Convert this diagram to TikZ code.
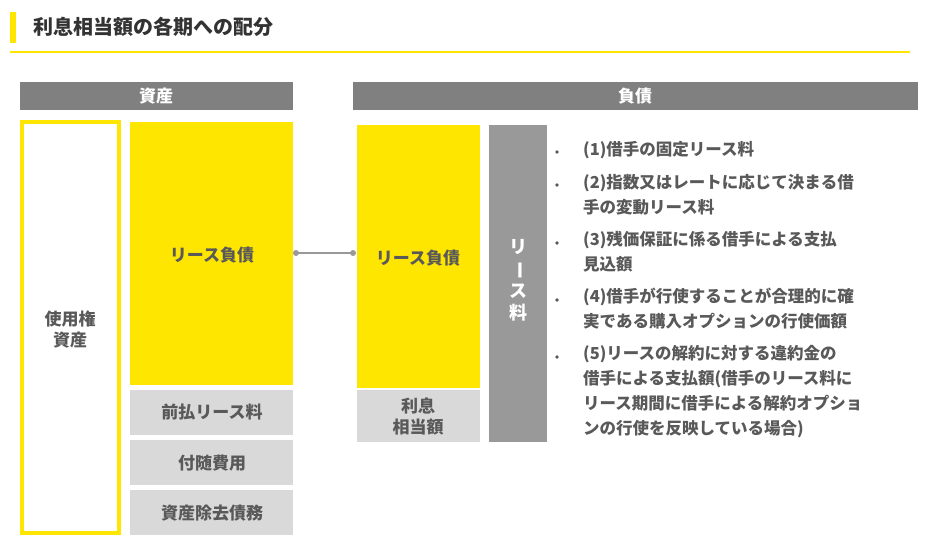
\documentclass[tikz,border=0pt]{standalone}
\usepackage{fontspec}
\setmainfont{Noto Sans CJK JP}
\usepackage{graphicx}
\definecolor{ey}{HTML}{FFE600}
\definecolor{hd}{HTML}{808080}
\definecolor{lg}{HTML}{D9D9D9}
\definecolor{dg}{HTML}{999999}
\definecolor{tx}{HTML}{595959}
\begin{document}
\begin{tikzpicture}[x=1pt,y=-1pt,
 lbl/.style={font=\fontsize{17}{21}\selectfont\bfseries,text=tx,align=center},
 bl/.style={anchor=north west,font=\fontsize{16.5}{25}\selectfont\bfseries,text=tx,align=left,inner sep=0pt}]
\useasboundingbox (0,0) rectangle (928,553);
\fill[ey] (10,12) rectangle (16,43);
\node[anchor=west,font=\fontsize{20}{24}\selectfont\bfseries,text=black!80] (title) at (30,27) {利息相当額の各期への配分};
\draw[ey,line width=1.2pt] (10,52) -- (910,52);
\fill[hd] (20,82) rectangle (293,110);
\node[text=white,font=\fontsize{17}{20}\selectfont\bfseries] (h1) at (156,96) {資産};
\fill[hd] (353,82) rectangle (918,110);
\node[text=white,font=\fontsize{17}{20}\selectfont\bfseries] (h2) at (635,96) {負債};
\draw[ey,line width=4pt] (22,122) rectangle (119,533);
\node[lbl] (ro) at (70,330) {使用権\\資産};
\fill[ey] (130,122) rectangle (293,385);
\node[lbl] (ll) at (212,255) {リース負債};
\fill[lg] (130,390) rectangle (293,435);
\node[lbl] (p1) at (212,412) {前払リース料};
\fill[lg] (130,440) rectangle (293,485);
\node[lbl] (p2) at (212,463) {付随費用};
\fill[lg] (130,490) rectangle (293,535);
\node[lbl] (p3) at (212,513) {資産除去債務};
\fill[ey] (357,125) rectangle (480,388);
\node[lbl] (rl) at (418,258) {リース負債};
\fill[lg] (357,390) rectangle (480,442);
\node[lbl] (ri) at (418,416) {利息\\相当額};
\coordinate (ca) at (296,253);
\coordinate (cb) at (353,253);
\draw[dg,line width=1.5pt] (ca) -- (cb);
\fill[dg] (ca) circle (3); \fill[dg] (cb) circle (3);
\fill[dg] (489,125) rectangle (547,442);
\node[text=white,font=\fontsize{18}{22}\selectfont\bfseries,align=center] (rv) at (518,280) {リ\\\rotatebox[origin=c]{-90}{ー}\\ス\\料};
\foreach \y in {152,185,243,300,357} \fill[tx] (557,\y) circle (1.8);
\node[bl] (b) at (583,141) {(1)借手の固定リース料\\[8pt](2)指数又はレートに応じて決まる借\\手の変動リース料\\[7pt](3)残価保証に係る借手による支払\\見込額\\[7pt](4)借手が行使することが合理的に確\\実である購入オプションの行使価額\\[7pt](5)リースの解約に対する違約金の\\借手による支払額(借手のリース料に\\リース期間に借手による解約オプショ\\ンの行使を反映している場合)};
\end{tikzpicture}
\end{document}
